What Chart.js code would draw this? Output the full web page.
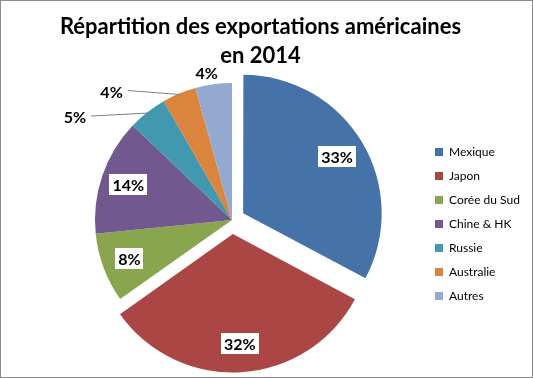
<!DOCTYPE html>
<html><head><meta charset="utf-8">
<script src="https://cdn.jsdelivr.net/npm/chart.js@4/dist/chart.umd.min.js"></script>
<style>
html,body{margin:0;padding:0;background:#fff;}
#wrap{width:533px;height:378px;box-sizing:border-box;border:1px solid #8a8a8a;background:#fff;}
canvas{display:block;}
</style></head><body>
<div id="wrap"><canvas id="c" width="531" height="376"></canvas></div>
<script>
const categories = ['Mexique', 'Japon', 'Corée du Sud', 'Chine & HK', 'Russie', 'Australie', 'Autres'];
const shares = [32.8, 32.4, 8.2, 13.7, 4.6, 4.0, 4.3];
const titleLines = ['Répartition des exportations américaines', 'en 2014'];

// styles
const sliceColors = ['#4572A7', '#AA4643', '#89A54E', '#71588F', '#4198AF', '#DB843D', '#93A9CF'];
const explode = [52, 56, 0, 0, 0, 0, 0];
const outsideLabel = [false, false, false, false, true, true, true];
const outsideShift = [null, null, null, null, [-73, 4], [-68, -3], [-7, -12]];
const FONT = 'Lato, "Open Sans", sans-serif';
const LEGEND_FONT_SIZE = 12;
const LEGEND_LEFT = 422;
const TITLE_CENTER_X = 259.5;
const CANVAS_W = 531;

// legend width as Chart.js computes it (padding + box + gap + text + 10)
const mctx = document.createElement('canvas').getContext('2d');
mctx.font = LEGEND_FONT_SIZE + 'px ' + FONT;
const maxTextW = Math.max(...categories.map(c => mctx.measureText(c).width));
const legendW = 12 + 8 + LEGEND_FONT_SIZE / 2 + maxTextW + 10;
const padRight = CANVAS_W - LEGEND_LEFT - legendW;

const titleShift = {
  id: 'titleShift',
  afterLayout(chart) {
    const t = chart.titleBlock;
    if (t) { t.left = TITLE_CENTER_X - 259; t.right = TITLE_CENTER_X + 259; }
  }
};

const labelPlugin = {
  id: 'pctLabels',
  afterDatasetsDraw(chart) {
    const ctx = chart.ctx;
    const meta = chart.getDatasetMeta(0);
    const data = chart.data.datasets[0].data;
    const total = data.reduce((a, b) => a + b, 0);
    ctx.save();
    ctx.font = 'bold 16px ' + FONT;
    ctx.textAlign = 'center';
    ctx.textBaseline = 'middle';
    meta.data.forEach((arc, i) => {
      const p = arc.getProps(['x', 'y', 'startAngle', 'endAngle', 'outerRadius'], true);
      const mid = (p.startAngle + p.endAngle) / 2;
      const off = (arc.options.offset || 0) / 4;
      const cx = p.x + Math.cos(mid) * off;
      const cy = p.y + Math.sin(mid) * off;
      const txt = Math.round(data[i] / total * 100) + '%';
      const tw = ctx.measureText(txt).width;
      if (!outsideLabel[i]) {
        const lx = cx + Math.cos(mid) * p.outerRadius * 0.8;
        const ly = cy + Math.sin(mid) * p.outerRadius * 0.8;
        ctx.fillStyle = '#fff';
        ctx.fillRect(Math.round(lx - tw / 2 - 3), Math.round(ly - 10.5), Math.round(tw + 6), 21);
        ctx.fillStyle = '#000';
        ctx.fillText(txt, lx, ly + 1);
      } else {
        const ax = cx + Math.cos(mid) * (p.outerRadius - 1);
        const ay = cy + Math.sin(mid) * (p.outerRadius - 1);
        const lx = ax + outsideShift[i][0];
        const ly = ay + outsideShift[i][1];
        if (Math.hypot(outsideShift[i][0], outsideShift[i][1]) > 30) {
          ctx.strokeStyle = '#7f7f7f';
          ctx.lineWidth = 1;
          ctx.beginPath();
          ctx.moveTo(lx + tw / 2 + 5, ly - 1);
          ctx.lineTo(ax, ay);
          ctx.stroke();
        }
        ctx.fillStyle = '#000';
        ctx.fillText(txt, lx, ly + 1);
      }
    });
    ctx.restore();
  }
};

new Chart(document.getElementById('c'), {
  type: 'pie',
  data: {
    labels: categories,
    datasets: [{
      data: shares,
      backgroundColor: sliceColors,
      borderWidth: 0,
      offset: explode
    }]
  },
  options: {
    responsive: false,
    animation: false,
    events: [],
    radius: 137,
    layout: { padding: { left: 40, right: padRight, top: 0, bottom: 7 } },
    plugins: {
      tooltip: { enabled: false },
      title: {
        display: true,
        text: titleLines,
        color: '#000',
        font: { family: FONT, size: 22, weight: 'bold', lineHeight: 1.318 },
        padding: { top: 11, bottom: 0 }
      },
      legend: {
        position: 'right',
        fullSize: false,
        title: { display: true, text: '', font: { size: 8, lineHeight: 1 }, padding: 0 },
        labels: {
          boxWidth: 8,
          boxHeight: 8,
          padding: 12,
          color: '#000',
          font: { family: FONT, size: LEGEND_FONT_SIZE }
        }
      }
    }
  },
  plugins: [labelPlugin, titleShift]
});
</script>
</body></html>
